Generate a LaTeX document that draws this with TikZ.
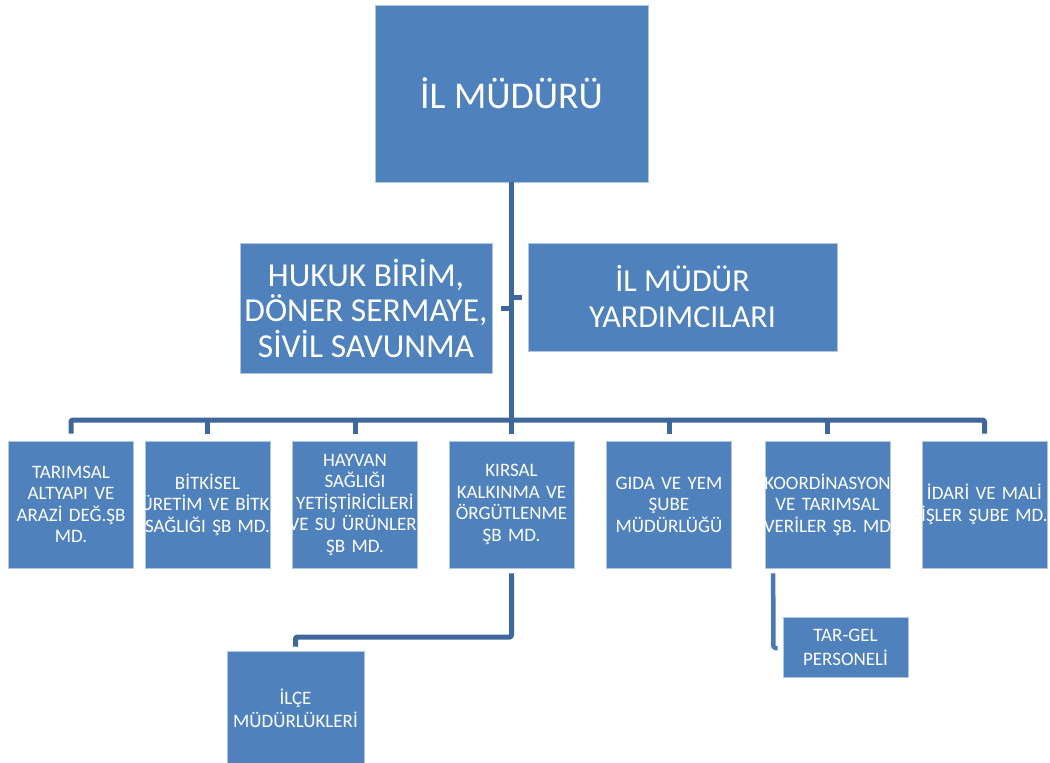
\documentclass[tikz,border=0pt]{standalone}
\usepackage{fontspec}
\setmainfont{Carlito}
\definecolor{boxblue}{RGB}{79,129,189}
\definecolor{linkblue}{RGB}{62,103,156}
\definecolor{sidelink}{RGB}{74,120,181}
\tikzset{
  unit/.style={draw=boxblue!45!white, line width=0.8pt, fill=boxblue, text=white, inner sep=0pt, align=center},
  dept/.style={unit, minimum width=125pt, minimum height=127pt, text width=125pt, font=\fontsize{19}{21.5}\selectfont},
  link/.style={draw=linkblue, line width=5pt, line join=round, rounded corners=1.5pt},
}
\begin{document}
\begin{tikzpicture}[x=1pt,y=-1pt]
  \useasboundingbox (0,0) rectangle (1050,763);
  %% Top
  \node[unit, minimum width=273pt, minimum height=177pt, font=\fontsize{37.8}{44}\selectfont] (mudur) at (511.5,93.5) {İL MÜDÜRÜ};
  \node[unit, minimum width=252pt, minimum height=130pt, font=\fontsize{33.5}{35.5}\selectfont] (hukuk) at (366,308) {HUKUK BİRİM,\\DÖNER SERMAYE,\\SİVİL SAVUNMA};
  \node[unit, minimum width=309pt, minimum height=108pt, font=\fontsize{32}{36}\selectfont] (yard) at (682.5,297) {İL MÜDÜR\\YARDIMCILARI};
  %% Departments
  \node[dept] (tarim) at (71,504.5) {TARIMSAL\\ALTYAPI VE\\ARAZİ DEĞ.ŞB\\MD.};
  \node[dept] (bitki) at (207.5,504.5) {BİTKİSEL\\\makebox[0pt]{ÜRETİM VE BİTKİ}\\SAĞLIĞI ŞB MD.};
  \node[dept] (hayvan) at (355,504.5) {HAYVAN\\SAĞLIĞI\\\makebox[0pt]{YETİŞTİRİCİLERİ}\\\makebox[0pt]{VE SU ÜRÜNLERİ}\\ŞB MD.};
  \node[dept] (kirsal) at (511.5,504.5) {KIRSAL\\KALKINMA VE\\ÖRGÜTLENME\\ŞB MD.};
  \node[dept] (gida) at (669,504.5) {GIDA VE YEM\\ŞUBE\\MÜDÜRLÜĞÜ};
  \node[dept] (koord) at (827.5,504.5) {\makebox[0pt]{KOORDİNASYON}\\VE TARIMSAL\\\makebox[0pt]{VERİLER ŞB. MD}};
  \node[dept] (idari) at (984.5,504.5) {İDARİ VE MALİ\\\makebox[0pt]{İŞLER ŞUBE MD.}};
  %% Lower units
  \node[unit, minimum width=137pt, minimum height=115pt, font=\fontsize{19}{23}\selectfont] (ilce) at (295.5,708.5) {İLÇE\\MÜDÜRLÜKLERİ};
  \node[unit, minimum width=125pt, minimum height=60pt, font=\fontsize{19}{24}\selectfont] (targel) at (845.5,647) {TAR-GEL\\PERSONELİ};
  %% Links
  \coordinate (bus) at (511.5,420);
  \draw[link] (mudur.south) -- (bus);
  \draw[link, shorten >=6pt] (mudur.south |- yard.west) -- (yard.west);
  \draw[link, shorten >=9pt] (mudur.south |- hukuk.east) -- (hukuk.east);
  \draw[link] ([yshift=7pt]tarim.north) |- (bus) -| ([yshift=7pt]idari.north);
  \foreach \n in {bitki,hayvan,kirsal,gida,koord}
    \draw[link] (bus -| \n.north) -- ([yshift=7pt]\n.north);
  \coordinate (ilcebend) at (511.5,637);
  \draw[link, shorten <=5pt, shorten >=4pt] (kirsal.south) -- (ilcebend) -| (ilce.north);
  \coordinate (targelbend) at (773.5,648);
  \draw[link, draw=sidelink, line width=4.5pt, shorten <=5pt, shorten >=5pt] ([xshift=8.5pt]koord.south west) -- (targelbend) -- (targel.west |- targelbend);
\end{tikzpicture}
\end{document}
